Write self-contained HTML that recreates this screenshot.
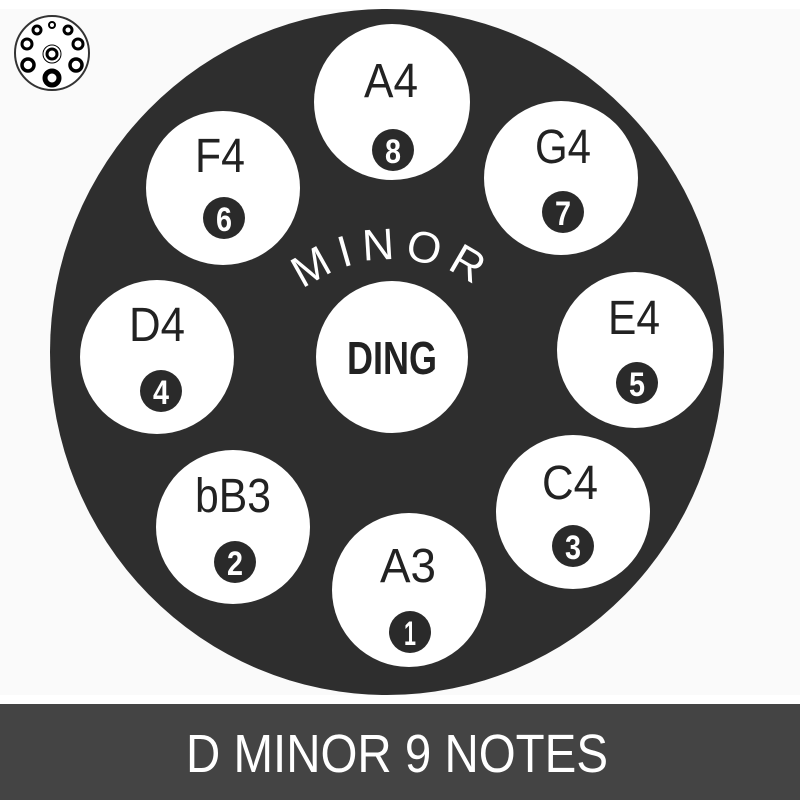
<!DOCTYPE html>
<html><head><style>
html,body{margin:0;padding:0;width:800px;height:800px;overflow:hidden;background:#fafafa}
</style></head><body>
<svg width="800" height="800" viewBox="0 0 800 800" xmlns="http://www.w3.org/2000/svg" style="display:block">
<rect x="0" y="0" width="800" height="800" fill="#fafafa"/>
<rect x="0" y="0" width="800" height="9" fill="#ffffff"/>
<rect x="0" y="695" width="800" height="10" fill="#ffffff"/>
<rect x="0" y="704" width="800" height="96" fill="#444444"/>
<text x="397" y="772" text-anchor="middle" font-family="Liberation Sans, sans-serif" font-size="54" fill="#fff" textLength="422" lengthAdjust="spacingAndGlyphs">D MINOR 9 NOTES</text>

<!-- icon -->
<circle cx="52" cy="53" r="37" fill="#fff" stroke="#333" stroke-width="2"/>
<g fill="none" stroke="#000">
<circle cx="52" cy="25" r="3" stroke-width="2"/>
<circle cx="37" cy="30" r="4" stroke-width="3"/>
<circle cx="68" cy="30" r="4" stroke-width="3"/>
<circle cx="27" cy="44" r="5" stroke-width="3"/>
<circle cx="78" cy="44" r="5" stroke-width="3"/>
<circle cx="28" cy="65" r="6" stroke-width="3.5"/>
<circle cx="76" cy="65" r="6" stroke-width="3.5"/>
<circle cx="52" cy="78" r="7" stroke-width="5"/>
<circle cx="52" cy="54" r="5" stroke-width="3"/>
<circle cx="52" cy="54" r="9" stroke-width="1"/>
</g>

<ellipse cx="387" cy="352" rx="337" ry="343" fill="#2e2e2e"/>

<defs>
<path id="arc" d="M 268 331 A 143 143 0 0 1 516 331"/>
</defs>
<text font-family="Liberation Sans, sans-serif" font-size="44" fill="#fff" letter-spacing="9"><textPath href="#arc" startOffset="50%" text-anchor="middle">MINOR</textPath></text>

<g font-family="Liberation Sans, sans-serif">
<circle cx="392" cy="357" r="76" fill="#fff"/>
<text x="392" y="374" text-anchor="middle" font-size="46" font-weight="bold" fill="#222" textLength="90" lengthAdjust="spacingAndGlyphs">DING</text>
</g>

<g font-family="Liberation Sans, sans-serif" fill="#222">
<!-- A4 -->
<circle cx="392" cy="102" r="78" fill="#fff"/>
<text x="391" y="97" text-anchor="middle" font-size="48" textLength="54" lengthAdjust="spacingAndGlyphs">A4</text>
<circle cx="393" cy="150" r="21" fill="#2a2a2a"/>
<text x="393" y="163" text-anchor="middle" font-size="34" font-weight="bold" fill="#fff" textLength="16" lengthAdjust="spacingAndGlyphs">8</text>
<!-- F4 -->
<circle cx="223" cy="188" r="77" fill="#fff"/>
<text x="220" y="172" text-anchor="middle" font-size="48" textLength="50" lengthAdjust="spacingAndGlyphs">F4</text>
<circle cx="224" cy="218" r="21" fill="#2a2a2a"/>
<text x="224" y="231" text-anchor="middle" font-size="34" font-weight="bold" fill="#fff" textLength="16" lengthAdjust="spacingAndGlyphs">6</text>
<!-- G4 -->
<circle cx="561" cy="178" r="77" fill="#fff"/>
<text x="563" y="163" text-anchor="middle" font-size="48" textLength="56" lengthAdjust="spacingAndGlyphs">G4</text>
<circle cx="563" cy="212" r="21" fill="#2a2a2a"/>
<text x="563" y="225" text-anchor="middle" font-size="34" font-weight="bold" fill="#fff" textLength="16" lengthAdjust="spacingAndGlyphs">7</text>
<!-- D4 -->
<circle cx="157" cy="357" r="77" fill="#fff"/>
<text x="157" y="341" text-anchor="middle" font-size="48" textLength="56" lengthAdjust="spacingAndGlyphs">D4</text>
<circle cx="161" cy="391" r="21" fill="#2a2a2a"/>
<text x="161" y="404" text-anchor="middle" font-size="34" font-weight="bold" fill="#fff" textLength="16" lengthAdjust="spacingAndGlyphs">4</text>
<!-- E4 -->
<circle cx="635" cy="350" r="78" fill="#fff"/>
<text x="634" y="334" text-anchor="middle" font-size="48" textLength="52" lengthAdjust="spacingAndGlyphs">E4</text>
<circle cx="637" cy="383" r="21" fill="#2a2a2a"/>
<text x="637" y="396" text-anchor="middle" font-size="34" font-weight="bold" fill="#fff" textLength="16" lengthAdjust="spacingAndGlyphs">5</text>
<!-- bB3 -->
<circle cx="233" cy="527" r="77" fill="#fff"/>
<text x="233" y="512" text-anchor="middle" font-size="48" textLength="76" lengthAdjust="spacingAndGlyphs">bB3</text>
<circle cx="235" cy="562" r="21" fill="#2a2a2a"/>
<text x="235" y="575" text-anchor="middle" font-size="34" font-weight="bold" fill="#fff" textLength="16" lengthAdjust="spacingAndGlyphs">2</text>
<!-- C4 -->
<circle cx="573" cy="512" r="77" fill="#fff"/>
<text x="570" y="499" text-anchor="middle" font-size="48" textLength="56" lengthAdjust="spacingAndGlyphs">C4</text>
<circle cx="573" cy="546" r="21" fill="#2a2a2a"/>
<text x="573" y="559" text-anchor="middle" font-size="34" font-weight="bold" fill="#fff" textLength="16" lengthAdjust="spacingAndGlyphs">3</text>
<!-- A3 -->
<circle cx="409" cy="590" r="77" fill="#fff"/>
<text x="408" y="582" text-anchor="middle" font-size="48" textLength="56" lengthAdjust="spacingAndGlyphs">A3</text>
<circle cx="410" cy="632" r="21" fill="#2a2a2a"/>
<text x="410" y="645" text-anchor="middle" font-size="34" font-weight="bold" fill="#fff" textLength="12" lengthAdjust="spacingAndGlyphs">1</text>
</g>
</svg>
</body></html>
